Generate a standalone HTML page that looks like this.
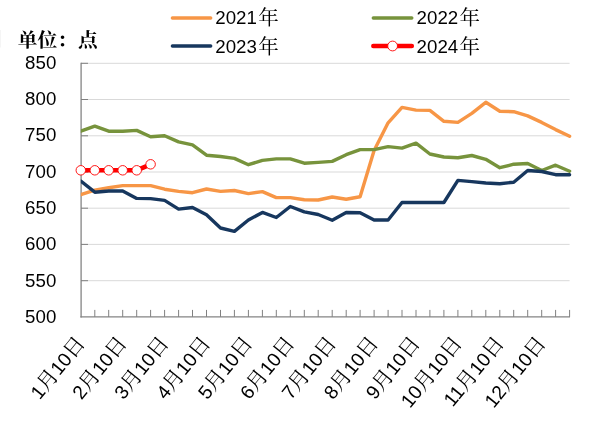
<!DOCTYPE html>
<html lang="zh"><head><meta charset="utf-8"><title>chart</title>
<style>
html,body{margin:0;padding:0;background:#fff;}
body{width:602px;height:423px;overflow:hidden;}
svg{display:block;}
text{font-family:"Liberation Sans","Noto Serif CJK SC",sans-serif;fill:#000;}
.n{font-family:"Liberation Sans",sans-serif;font-size:18.7px;}
.c{font-family:"Noto Serif CJK SC","Noto Sans CJK SC",serif;font-size:19.5px;}
.t{font-family:"Noto Serif CJK SC","Noto Sans CJK SC",serif;font-size:19.8px;font-weight:bold;}
.xn{font-size:19.3px;}
.xc{font-size:20.6px;}
.lc{font-size:20.5px;}
.ln{fill:none;stroke-width:3.4;stroke-linejoin:round;stroke-linecap:round;}
</style></head><body>
<svg width="602" height="423" viewBox="0 0 602 423">
<rect width="602" height="423" fill="#fff"/>
<rect x="0" y="30" width="0.6" height="17.5" fill="#eeeeee"/>

<line x1="81" y1="63.3" x2="569.6" y2="63.3" stroke="#d9d9d9" stroke-width="1"/>
<line x1="81" y1="99.5" x2="569.6" y2="99.5" stroke="#d9d9d9" stroke-width="1"/>
<line x1="81" y1="135.8" x2="569.6" y2="135.8" stroke="#d9d9d9" stroke-width="1"/>
<line x1="81" y1="172.0" x2="569.6" y2="172.0" stroke="#d9d9d9" stroke-width="1"/>
<line x1="81" y1="208.2" x2="569.6" y2="208.2" stroke="#d9d9d9" stroke-width="1"/>
<line x1="81" y1="244.4" x2="569.6" y2="244.4" stroke="#d9d9d9" stroke-width="1"/>
<line x1="81" y1="280.7" x2="569.6" y2="280.7" stroke="#d9d9d9" stroke-width="1"/>
<line x1="81.1" y1="62.8" x2="81.1" y2="317.59999999999997" stroke="#848484" stroke-width="1.3"/>
<line x1="80.4" y1="316.9" x2="570" y2="316.9" stroke="#848484" stroke-width="1.3"/>
<line x1="81" y1="63.3" x2="88" y2="63.3" stroke="#808080" stroke-width="1"/>
<line x1="81" y1="99.5" x2="88" y2="99.5" stroke="#808080" stroke-width="1"/>
<line x1="81" y1="135.8" x2="88" y2="135.8" stroke="#808080" stroke-width="1"/>
<line x1="81" y1="172.0" x2="88" y2="172.0" stroke="#808080" stroke-width="1"/>
<line x1="81" y1="208.2" x2="88" y2="208.2" stroke="#808080" stroke-width="1"/>
<line x1="81" y1="244.4" x2="88" y2="244.4" stroke="#808080" stroke-width="1"/>
<line x1="81" y1="280.7" x2="88" y2="280.7" stroke="#808080" stroke-width="1"/>
<line x1="94.8" y1="316.9" x2="94.8" y2="309.9" stroke="#808080" stroke-width="1"/>
<line x1="108.7" y1="316.9" x2="108.7" y2="309.9" stroke="#808080" stroke-width="1"/>
<line x1="122.7" y1="316.9" x2="122.7" y2="309.9" stroke="#808080" stroke-width="1"/>
<line x1="136.7" y1="316.9" x2="136.7" y2="309.9" stroke="#808080" stroke-width="1"/>
<line x1="150.6" y1="316.9" x2="150.6" y2="309.9" stroke="#808080" stroke-width="1"/>
<line x1="164.6" y1="316.9" x2="164.6" y2="309.9" stroke="#808080" stroke-width="1"/>
<line x1="178.6" y1="316.9" x2="178.6" y2="309.9" stroke="#808080" stroke-width="1"/>
<line x1="192.5" y1="316.9" x2="192.5" y2="309.9" stroke="#808080" stroke-width="1"/>
<line x1="206.5" y1="316.9" x2="206.5" y2="309.9" stroke="#808080" stroke-width="1"/>
<line x1="220.5" y1="316.9" x2="220.5" y2="309.9" stroke="#808080" stroke-width="1"/>
<line x1="234.4" y1="316.9" x2="234.4" y2="309.9" stroke="#808080" stroke-width="1"/>
<line x1="248.4" y1="316.9" x2="248.4" y2="309.9" stroke="#808080" stroke-width="1"/>
<line x1="262.4" y1="316.9" x2="262.4" y2="309.9" stroke="#808080" stroke-width="1"/>
<line x1="276.3" y1="316.9" x2="276.3" y2="309.9" stroke="#808080" stroke-width="1"/>
<line x1="290.3" y1="316.9" x2="290.3" y2="309.9" stroke="#808080" stroke-width="1"/>
<line x1="304.3" y1="316.9" x2="304.3" y2="309.9" stroke="#808080" stroke-width="1"/>
<line x1="318.2" y1="316.9" x2="318.2" y2="309.9" stroke="#808080" stroke-width="1"/>
<line x1="332.2" y1="316.9" x2="332.2" y2="309.9" stroke="#808080" stroke-width="1"/>
<line x1="346.2" y1="316.9" x2="346.2" y2="309.9" stroke="#808080" stroke-width="1"/>
<line x1="360.1" y1="316.9" x2="360.1" y2="309.9" stroke="#808080" stroke-width="1"/>
<line x1="374.1" y1="316.9" x2="374.1" y2="309.9" stroke="#808080" stroke-width="1"/>
<line x1="388.1" y1="316.9" x2="388.1" y2="309.9" stroke="#808080" stroke-width="1"/>
<line x1="402.0" y1="316.9" x2="402.0" y2="309.9" stroke="#808080" stroke-width="1"/>
<line x1="416.0" y1="316.9" x2="416.0" y2="309.9" stroke="#808080" stroke-width="1"/>
<line x1="429.9" y1="316.9" x2="429.9" y2="309.9" stroke="#808080" stroke-width="1"/>
<line x1="443.9" y1="316.9" x2="443.9" y2="309.9" stroke="#808080" stroke-width="1"/>
<line x1="457.9" y1="316.9" x2="457.9" y2="309.9" stroke="#808080" stroke-width="1"/>
<line x1="471.8" y1="316.9" x2="471.8" y2="309.9" stroke="#808080" stroke-width="1"/>
<line x1="485.8" y1="316.9" x2="485.8" y2="309.9" stroke="#808080" stroke-width="1"/>
<line x1="499.8" y1="316.9" x2="499.8" y2="309.9" stroke="#808080" stroke-width="1"/>
<line x1="513.7" y1="316.9" x2="513.7" y2="309.9" stroke="#808080" stroke-width="1"/>
<line x1="527.7" y1="316.9" x2="527.7" y2="309.9" stroke="#808080" stroke-width="1"/>
<line x1="541.7" y1="316.9" x2="541.7" y2="309.9" stroke="#808080" stroke-width="1"/>
<line x1="555.6" y1="316.9" x2="555.6" y2="309.9" stroke="#808080" stroke-width="1"/>
<line x1="569.6" y1="316.9" x2="569.6" y2="309.9" stroke="#808080" stroke-width="1"/>
<clipPath id="pc"><rect x="80.8" y="0" width="530" height="423"/></clipPath><g clip-path="url(#pc)">
<polyline class="ln" stroke="#f79646" points="80.8,194.7 94.8,190.2 108.7,187.7 122.7,185.6 136.7,185.6 150.6,185.6 164.6,189.2 178.6,191.4 192.5,192.7 206.5,189.0 220.5,191.4 234.4,190.5 248.4,193.6 262.4,191.6 276.3,197.6 290.3,197.6 304.3,199.8 318.2,200.0 332.2,197.0 346.2,199.2 360.1,196.8 374.1,150.5 388.1,122.8 402.0,107.4 416.0,110.1 429.9,110.4 443.9,121.3 457.9,122.4 471.8,113.4 485.8,102.3 499.8,111.2 513.7,111.7 527.7,115.9 541.7,122.4 555.6,129.6 569.6,136.3"/>
<polyline class="ln" stroke="#77933c" points="80.8,131.2 94.8,126.2 108.7,131.2 122.7,131.2 136.7,130.4 150.6,136.7 164.6,135.7 178.6,141.9 192.5,144.9 206.5,155.2 220.5,156.5 234.4,158.4 248.4,164.7 262.4,160.4 276.3,158.9 290.3,158.9 304.3,163.2 318.2,162.4 332.2,161.4 346.2,154.7 360.1,149.6 374.1,149.6 388.1,146.6 402.0,148.1 416.0,143.2 429.9,154.0 443.9,157.0 457.9,157.8 471.8,155.5 485.8,159.3 499.8,167.7 513.7,164.2 527.7,163.5 541.7,170.5 555.6,165.2 569.6,171.2"/>
<polyline class="ln" stroke="#17375e" points="80.8,181.0 94.8,192.2 108.7,191.0 122.7,191.0 136.7,198.4 150.6,198.6 164.6,200.4 178.6,209.1 192.5,207.5 206.5,214.8 220.5,228.0 234.4,231.4 248.4,220.0 262.4,212.4 276.3,217.5 290.3,206.5 304.3,211.8 318.2,214.5 332.2,220.2 346.2,212.5 360.1,212.7 374.1,220.0 388.1,220.0 402.0,202.5 416.0,202.5 429.9,202.5 443.9,202.5 457.9,180.4 471.8,181.6 485.8,183.0 499.8,183.7 513.7,182.2 527.7,170.5 541.7,171.5 555.6,174.7 569.6,174.7"/>
<polyline class="ln" style="stroke-width:4.6" stroke="#ff0000" points="80.8,170.3 94.8,170.3 108.7,170.3 122.7,170.3 136.7,170.3 150.6,164.3"/>
</g>
<circle cx="80.8" cy="170.3" r="4.75" fill="#fff" stroke="#ff0000" stroke-width="0.9"/>
<circle cx="94.8" cy="170.3" r="4.75" fill="#fff" stroke="#ff0000" stroke-width="0.9"/>
<circle cx="108.7" cy="170.3" r="4.75" fill="#fff" stroke="#ff0000" stroke-width="0.9"/>
<circle cx="122.7" cy="170.3" r="4.75" fill="#fff" stroke="#ff0000" stroke-width="0.9"/>
<circle cx="136.7" cy="170.3" r="4.75" fill="#fff" stroke="#ff0000" stroke-width="0.9"/>
<circle cx="150.6" cy="164.3" r="4.75" fill="#fff" stroke="#ff0000" stroke-width="0.9"/>
<text class="n" x="56.3" y="68.8" text-anchor="end">850</text>
<text class="n" x="56.3" y="105.1" text-anchor="end">800</text>
<text class="n" x="56.3" y="141.4" text-anchor="end">750</text>
<text class="n" x="56.3" y="177.7" text-anchor="end">700</text>
<text class="n" x="56.3" y="214.0" text-anchor="end">650</text>
<text class="n" x="56.3" y="250.3" text-anchor="end">600</text>
<text class="n" x="56.3" y="286.6" text-anchor="end">550</text>
<text class="n" x="56.3" y="322.9" text-anchor="end">500</text>
<text transform="translate(80.8,339.5) rotate(-51)" text-anchor="end" y="6.5"><tspan class="n xn">1</tspan><tspan class="c xc">月</tspan><tspan class="n xn">10</tspan><tspan class="c xc">日</tspan></text>
<text transform="translate(122.7,339.5) rotate(-51)" text-anchor="end" y="6.5"><tspan class="n xn">2</tspan><tspan class="c xc">月</tspan><tspan class="n xn">10</tspan><tspan class="c xc">日</tspan></text>
<text transform="translate(164.6,339.5) rotate(-51)" text-anchor="end" y="6.5"><tspan class="n xn">3</tspan><tspan class="c xc">月</tspan><tspan class="n xn">10</tspan><tspan class="c xc">日</tspan></text>
<text transform="translate(206.5,339.5) rotate(-51)" text-anchor="end" y="6.5"><tspan class="n xn">4</tspan><tspan class="c xc">月</tspan><tspan class="n xn">10</tspan><tspan class="c xc">日</tspan></text>
<text transform="translate(248.4,339.5) rotate(-51)" text-anchor="end" y="6.5"><tspan class="n xn">5</tspan><tspan class="c xc">月</tspan><tspan class="n xn">10</tspan><tspan class="c xc">日</tspan></text>
<text transform="translate(290.3,339.5) rotate(-51)" text-anchor="end" y="6.5"><tspan class="n xn">6</tspan><tspan class="c xc">月</tspan><tspan class="n xn">10</tspan><tspan class="c xc">日</tspan></text>
<text transform="translate(332.2,339.5) rotate(-51)" text-anchor="end" y="6.5"><tspan class="n xn">7</tspan><tspan class="c xc">月</tspan><tspan class="n xn">10</tspan><tspan class="c xc">日</tspan></text>
<text transform="translate(374.1,339.5) rotate(-51)" text-anchor="end" y="6.5"><tspan class="n xn">8</tspan><tspan class="c xc">月</tspan><tspan class="n xn">10</tspan><tspan class="c xc">日</tspan></text>
<text transform="translate(416.0,339.5) rotate(-51)" text-anchor="end" y="6.5"><tspan class="n xn">9</tspan><tspan class="c xc">月</tspan><tspan class="n xn">10</tspan><tspan class="c xc">日</tspan></text>
<text transform="translate(457.9,339.5) rotate(-51)" text-anchor="end" y="6.5"><tspan class="n xn">10</tspan><tspan class="c xc">月</tspan><tspan class="n xn">10</tspan><tspan class="c xc">日</tspan></text>
<text transform="translate(499.8,339.5) rotate(-51)" text-anchor="end" y="6.5"><tspan class="n xn">11</tspan><tspan class="c xc">月</tspan><tspan class="n xn">10</tspan><tspan class="c xc">日</tspan></text>
<text transform="translate(541.7,339.5) rotate(-51)" text-anchor="end" y="6.5"><tspan class="n xn">12</tspan><tspan class="c xc">月</tspan><tspan class="n xn">10</tspan><tspan class="c xc">日</tspan></text>
<text class="t" x="17.7" y="46.5">单位：<tspan dx="1">点</tspan></text>
<line x1="172.4" y1="18" x2="210.7" y2="18" stroke="#f79646" stroke-width="3.4" stroke-linecap="round"/><text x="215.3" y="24.3"><tspan class="n">2021</tspan><tspan class="c lc" dx="1.4" dy="0.7">年</tspan></text>
<line x1="172.4" y1="46" x2="210.7" y2="46" stroke="#17375e" stroke-width="3.4" stroke-linecap="round"/><text x="215.3" y="53.0"><tspan class="n">2023</tspan><tspan class="c lc" dx="1.4" dy="0.7">年</tspan></text>
<line x1="373.3" y1="18" x2="411.8" y2="18" stroke="#77933c" stroke-width="3.4" stroke-linecap="round"/><text x="416.6" y="24.3"><tspan class="n">2022</tspan><tspan class="c lc" dx="1.4" dy="0.7">年</tspan></text>
<line x1="373.3" y1="46" x2="411.8" y2="46" stroke="#ff0000" stroke-width="4.5" stroke-linecap="round"/><circle cx="392.6" cy="46" r="4.9" fill="#fff" stroke="#ff0000" stroke-width="0.9"/><text x="416.6" y="53.0"><tspan class="n">2024</tspan><tspan class="c lc" dx="1.4" dy="0.7">年</tspan></text>
</svg></body></html>
